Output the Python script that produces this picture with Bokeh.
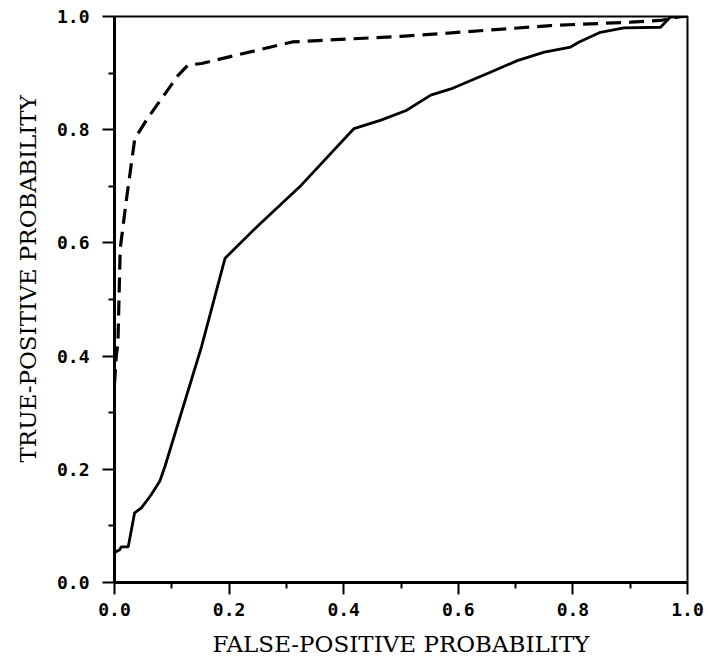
from bokeh.plotting import figure
from bokeh.models import Range1d, FixedTicker, Title
from bokeh.embed import file_html
from bokeh.resources import INLINE

# Solid ROC curve
solid_fpr = [0.0, 0.009, 0.012, 0.024, 0.035, 0.047, 0.064, 0.079, 0.088, 0.152, 0.193,
             0.25, 0.326, 0.418, 0.465, 0.509, 0.552, 0.587, 0.657, 0.703, 0.750, 0.796,
             0.811, 0.848, 0.889, 0.953, 0.970, 1.0]
solid_tpr = [0.053, 0.058, 0.063, 0.063, 0.123, 0.132, 0.155, 0.179, 0.205, 0.417, 0.573,
             0.63, 0.702, 0.802, 0.817, 0.834, 0.861, 0.872, 0.902, 0.922, 0.937, 0.946,
             0.955, 0.972, 0.980, 0.981, 0.999, 1.0]

# Dashed ROC curve
dash_fpr = [0.0, 0.003, 0.006, 0.01, 0.021, 0.035, 0.041, 0.059, 0.111, 0.128, 0.152,
            0.21, 0.31, 0.5, 0.587, 0.761, 0.901, 0.953, 0.988, 1.0]
dash_tpr = [0.35, 0.40, 0.423, 0.59, 0.678, 0.781, 0.793, 0.822, 0.896, 0.914, 0.917,
            0.931, 0.955, 0.965, 0.971, 0.984, 0.99, 0.993, 1.0, 1.0]

major_ticks = [0.0, 0.2, 0.4, 0.6, 0.8, 1.0]
minor_ticks = [0.1, 0.3, 0.5, 0.7, 0.9]
tick_labels = {0.0: "0.0", 0.2: "0.2", 0.4: "0.4", 0.6: "0.6", 0.8: "0.8", 1.0: "1.0"}

p = figure(width=708, height=659, output_backend="svg", toolbar_location=None,
           x_range=Range1d(0, 1), y_range=Range1d(0, 1),
           min_border_left=113, min_border_right=21, min_border_top=16, min_border_bottom=76)

p.background_fill_color = "white"
p.border_fill_color = "white"
p.outline_line_color = "black"
p.outline_line_width = 2
p.grid.visible = False

p.line(solid_fpr, solid_tpr, line_color="black", line_width=2.8)
p.line(dash_fpr, dash_tpr, line_color="black", line_width=3.2, line_dash="15 8")

for ax in (p.xaxis[0], p.yaxis[0]):
    ax.ticker = FixedTicker(ticks=major_ticks, minor_ticks=minor_ticks)
    ax.major_label_overrides = tick_labels
    ax.axis_line_width = 3
    ax.axis_line_color = "black"
    ax.major_tick_line_width = 2
    ax.minor_tick_line_width = 2
    ax.major_tick_line_color = "black"
    ax.minor_tick_line_color = "black"
    ax.major_tick_in = 0
    ax.major_tick_out = 12
    ax.minor_tick_in = 0
    ax.minor_tick_out = 6
    ax.major_label_text_font = "DejaVu Sans Mono"
    ax.major_label_text_font_style = "bold"
    ax.major_label_text_font_size = "18px"
    ax.major_label_text_color = "black"
    ax.axis_label_text_font = "DejaVu Serif"
    ax.axis_label_text_font_style = "normal"
    ax.axis_label_text_font_size = "23px"
    ax.axis_label_text_color = "black"

p.xaxis.axis_label = "FALSE-POSITIVE PROBABILITY"
p.xaxis.major_label_standoff = 8
p.xaxis.axis_label_standoff = 12
p.yaxis.major_label_standoff = 13

ylab = Title(text="TRUE-POSITIVE PROBABILITY", align="left", offset=120,
             text_font="DejaVu Serif", text_font_style="normal",
             text_font_size="23px", text_color="#000000", standoff=25)
p.add_layout(ylab, "left")

open("out.html", "w").write(file_html(p, INLINE))
